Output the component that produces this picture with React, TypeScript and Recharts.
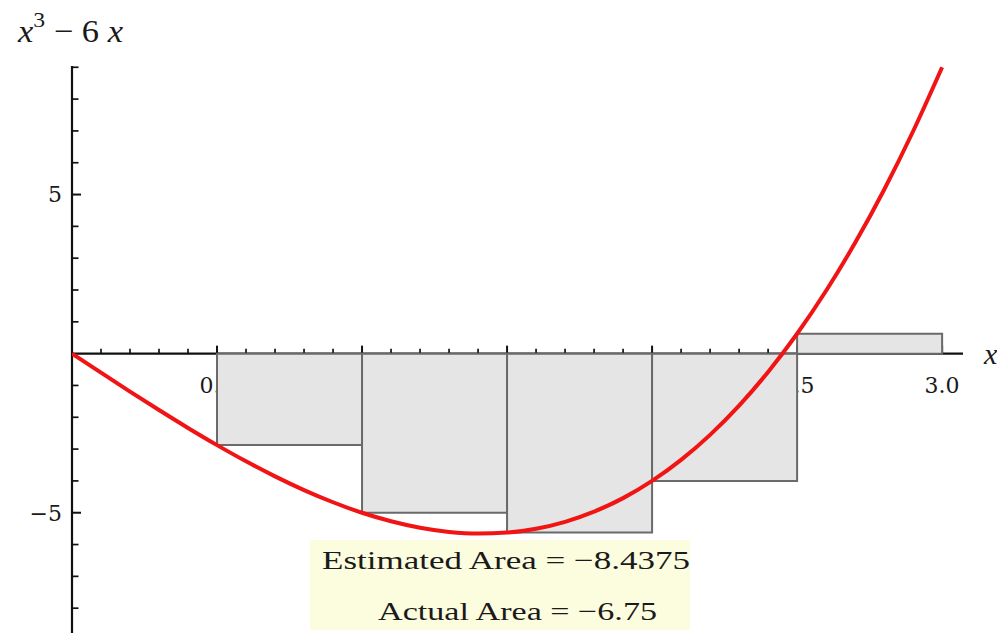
import React from "react";
import {
  ComposedChart,
  Line,
  XAxis,
  YAxis,
  ReferenceArea,
  ReferenceLine,
  ReferenceDot,
} from "recharts";

// f(x) = x^3 - 6x sampled on [0, 3]
const curveX = [
  0, 0.1, 0.2, 0.3, 0.4, 0.5, 0.6, 0.7, 0.8, 0.9, 1.0, 1.1, 1.2, 1.3, 1.4, 1.5,
  1.6, 1.7, 1.8, 1.9, 2.0, 2.1, 2.2, 2.3, 2.4, 2.5, 2.6, 2.7, 2.8, 2.9, 3.0,
];
const curveY = [
  0, -0.599, -1.192, -1.773, -2.336, -2.875, -3.384, -3.857, -4.288, -4.671, -5,
  -5.269, -5.472, -5.603, -5.656, -5.625, -5.504, -5.287, -4.968, -4.541, -4,
  -3.339, -2.552, -1.633, -0.576, 0.625, 1.976, 3.483, 5.152, 6.989, 9,
];

// left Riemann sum, 6 subintervals
const partition = [0, 0.5, 1, 1.5, 2, 2.5, 3];
const leftHeights = [0, -2.875, -5, -5.625, -4, 0.625];

const xMajorTicks = [0.5, 1, 1.5, 2, 2.5, 3];
const xTickLabels = ["0.5", "1.0", "1.5", "2.0", "2.5", "3.0"];
const xMinorTicks = [
  0.1, 0.2, 0.3, 0.4, 0.6, 0.7, 0.8, 0.9, 1.1, 1.2, 1.3, 1.4, 1.6, 1.7, 1.8,
  1.9, 2.1, 2.2, 2.3, 2.4, 2.6, 2.7, 2.8, 2.9,
];
const yMajorTicks = [-5, 5];
const yMinorTicks = [-8, -7, -6, -4, -3, -2, -1, 1, 2, 3, 4, 6, 7, 8, 9];

const ACTUAL_AREA = "−6.75";

const data = curveX.map((x, i) => ({ x, y: curveY[i] }));
const dx = partition[1] - partition[0];
const estimate = leftHeights.reduce((s, h) => s + h * dx, 0);

const FONT = "'DejaVu Serif', serif";
const TEXT_FONT = "'Liberation Serif', serif";
const INK = "#1a1a1a";

function fmt(v: number) {
  return v < 0 ? "−" + String(-v) : String(v);
}

export default function App() {
  return (
    <div style={{ position: "absolute", left: 0, top: 0, width: 997, height: 633, background: "#fff" }}>
      <ComposedChart
        width={997}
        height={633}
        data={data}
        margin={{ top: 66, right: 34, bottom: 0, left: 12 }}
      >
        <XAxis type="number" dataKey="x" domain={[0, 3.072]} allowDataOverflow hide />
        <YAxis
          type="number"
          domain={[-8.78, 9.04]}
          allowDataOverflow
          width={60}
          ticks={yMajorTicks}
          tickFormatter={fmt}
          tickLine={false}
          tickSize={0}
          tickMargin={10}
          axisLine={{ stroke: "#111", strokeWidth: 2.2 }}
          tick={{ fontSize: 22, fill: INK, fontFamily: FONT }}
          zIndex={0}
        />

        {xTickLabels.map((t, i) => (
          <ReferenceDot
            key={"xl" + t}
            x={xMajorTicks[i]}
            y={0}
            zIndex={0}
            shape={(p: any) => (
              <text x={p.cx} y={p.cy + 39} textAnchor="middle" fontSize={22} fontFamily={FONT} fill={INK}>
                {t}
              </text>
            )}
          />
        ))}

        <ReferenceLine y={0} stroke="#111" strokeWidth={2.2} zIndex={0} />

        {xMajorTicks.map((t) => (
          <ReferenceDot
            key={"xM" + t}
            x={t}
            y={0}
            zIndex={0}
            shape={(p: any) => (
              <line x1={p.cx} y1={p.cy} x2={p.cx} y2={p.cy - 8} stroke="#111" strokeWidth={2} />
            )}
          />
        ))}
        {xMinorTicks.map((t) => (
          <ReferenceDot
            key={"xm" + t}
            x={t}
            y={0}
            zIndex={0}
            shape={(p: any) => (
              <line x1={p.cx} y1={p.cy} x2={p.cx} y2={p.cy - 5} stroke="#111" strokeWidth={1.7} />
            )}
          />
        ))}
        {yMajorTicks.map((t) => (
          <ReferenceDot
            key={"yM" + t}
            x={0}
            y={t}
            zIndex={0}
            shape={(p: any) => (
              <line x1={p.cx} y1={p.cy} x2={p.cx + 9} y2={p.cy} stroke="#111" strokeWidth={2} />
            )}
          />
        ))}
        {yMinorTicks.map((t) => (
          <ReferenceDot
            key={"ym" + t}
            x={0}
            y={t}
            zIndex={0}
            shape={(p: any) => (
              <line x1={p.cx} y1={p.cy} x2={p.cx + 6.5} y2={p.cy} stroke="#111" strokeWidth={1.7} />
            )}
          />
        ))}

        {leftHeights.map((h, i) =>
          h === 0 ? null : (
            <ReferenceArea
              key={"r" + i}
              x1={partition[i]}
              x2={partition[i + 1]}
              y1={0}
              y2={h}
              fill="#e5e5e5"
              fillOpacity={1}
              stroke="#6a6a6a"
              strokeWidth={2}
              zIndex={100}
            />
          )
        )}

        <Line
          type="monotone"
          dataKey="y"
          stroke="#f01414"
          strokeWidth={4}
          dot={false}
          isAnimationActive={false}
          zIndex={400}
        />
      </ComposedChart>

      <svg
        width={997}
        height={633}
        style={{ position: "absolute", left: 0, top: 0, pointerEvents: "none" }}
        fontFamily={TEXT_FONT}
        fill={INK}
      >
        <text x={18} y={42} fontSize={32} textLength={105} lengthAdjust="spacingAndGlyphs">
          <tspan fontStyle="italic">x</tspan>
          <tspan fontSize={22} dy={-15}>3</tspan>
          <tspan dy={15}> − 6 </tspan>
          <tspan fontStyle="italic">x</tspan>
        </text>
        <text x={984} y={364} fontSize={30} fontStyle="italic">x</text>

        <rect x={310} y={540} width={380} height={90} fill="#fcfcdf" />
        <text x={322} y={569} fontSize={26} textLength={368} lengthAdjust="spacingAndGlyphs">
          {"Estimated Area = " + fmt(estimate)}
        </text>
        <text x={378} y={620} fontSize={26} textLength={279} lengthAdjust="spacingAndGlyphs">
          {"Actual Area = " + ACTUAL_AREA}
        </text>
      </svg>
    </div>
  );
}
